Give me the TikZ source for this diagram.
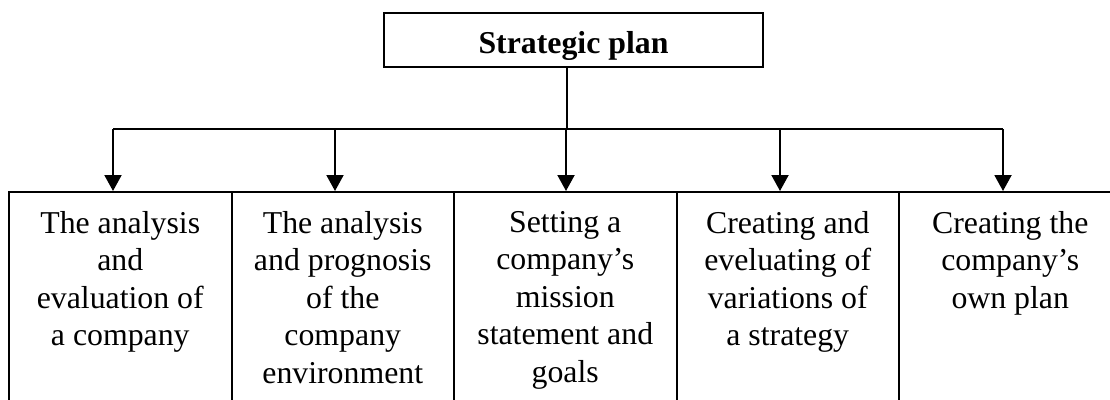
\documentclass[tikz,border=0pt]{standalone}
\usepackage{fontspec}
\setmainfont{Liberation Serif}
\usetikzlibrary{arrows.meta}
\begin{document}
\begin{tikzpicture}[x=1pt,y=-1pt,
  line width=2pt,
  planbox/.style={draw, rectangle, minimum width=379pt, minimum height=53.5pt,
    inner sep=0pt, font=\fontsize{31.8}{36}\selectfont\bfseries,
    text height=28pt, text depth=1.4pt},
  colframe/.style={draw, rectangle, minimum width=222.5pt, minimum height=240pt,
    inner sep=0pt, anchor=north},
  coltext/.style={align=center, inner sep=0pt, anchor=north,
    font=\fontsize{31.8}{37.5}\selectfont},
  arr/.style={-{Triangle[length=16pt,width=17pt]}}]
\clip (0,0) rectangle (1110,399);

% top box
\node[planbox] (plan) at (573.5,40) {Strategic plan};

% columns (open at the bottom and on the right edge)
\node[colframe] (c1) at (120.25,191) {};
\node[colframe] (c2) at (342.75,191) {};
\node[colframe] (c3) at (565.25,191) {};
\node[colframe] (c4) at (787.75,191) {};
\node[colframe] (c5) at (1010.25,191) {};

\node[coltext] (t1) at ([yshift=-19pt]c1.north) {The analysis\\and\\evaluation of\\a company};
\node[coltext] (t2) at ([yshift=-19pt]c2.north) {The analysis\\and prognosis\\of the\\company\\environment};
\node[coltext] (t3) at ([yshift=-19pt]c3.north) {Setting a\\company’s\\mission\\statement and\\goals};
\node[coltext] (t4) at ([yshift=-19pt]c4.north) {Creating and\\eveluating of\\variations of\\a strategy};
\node[coltext] (t5) at ([yshift=-19pt]c5.north) {Creating the\\company’s\\own plan};

% distribution bus
\coordinate (hub) at (567,129);
\coordinate (b1) at (113,129);
\coordinate (b2) at (335,129);
\coordinate (b3) at (566,129);
\coordinate (b4) at (780,129);
\coordinate (b5) at (1003,129);

\draw (hub |- plan.south) -- (hub);
\draw (b1) -- (b5);
\draw[arr] (b1) -- (b1 |- c1.north);
\draw[arr] (b2) -- (b2 |- c2.north);
\draw[arr] (b3) -- (b3 |- c3.north);
\draw[arr] (b4) -- (b4 |- c4.north);
\draw[arr] (b5) -- (b5 |- c5.north);
\end{tikzpicture}
\end{document}
